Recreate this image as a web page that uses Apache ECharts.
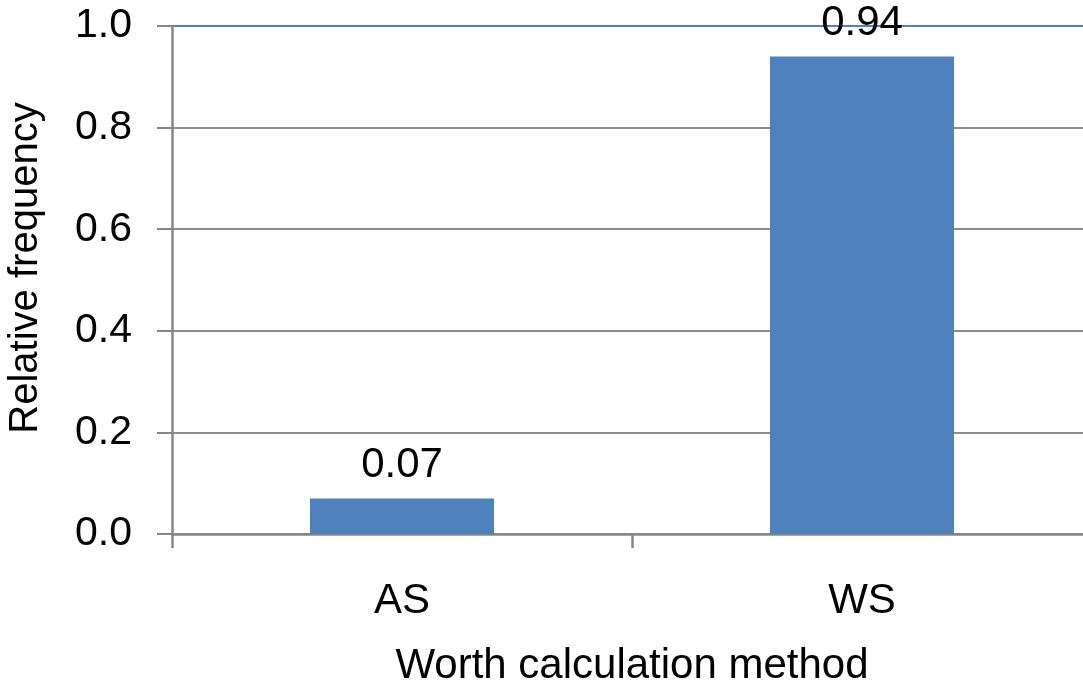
<!DOCTYPE html>
<html>
<head>
<meta charset="utf-8">
<script src="https://cdn.jsdelivr.net/npm/echarts@6/dist/echarts.min.js"></script>
<style>
  html, body { margin: 0; padding: 0; overflow: hidden; background: #fff; }
  #chart { width: 1092px; height: 688px; }
</style>
</head>
<body>
<div id="chart"></div>
<script>
// Share of worth calculation methods
const categories = ['AS', 'WS'];
const frequencies = [0.07, 0.94];
const yTicks = [0, 0.2, 0.4, 0.6, 0.8, 1.0];

const FONT = '"Liberation Sans", Arial, sans-serif';
const GRID_GRAY = '#8c8c8c';
const AXIS_GRAY = '#868686';
const BAR_BLUE = '#4f81bd';

const chart = echarts.init(document.getElementById('chart'), null, { renderer: 'canvas' });

chart.setOption({
  animation: false,
  backgroundColor: '#ffffff',
  grid: {
    left: 172, top: 26, width: 920, bottom: 154,
    containLabel: false,
    outerBoundsMode: 'none'
  },
  xAxis: {
    type: 'category',
    data: categories,
    name: 'Worth calculation method',
    nameLocation: 'middle',
    nameGap: 111,
    nameTextStyle: { fontFamily: FONT, fontSize: 42, color: '#000' },
    axisLine: { lineStyle: { color: AXIS_GRAY, width: 2.5 } },
    axisTick: { show: true, length: 14, lineStyle: { color: AXIS_GRAY, width: 2.5 } },
    axisLabel: { fontFamily: FONT, fontSize: 42, color: '#000', margin: 46 }
  },
  yAxis: {
    type: 'value',
    min: yTicks[0],
    max: yTicks[yTicks.length - 1],
    interval: 0.2,
    name: 'Relative frequency',
    nameLocation: 'middle',
    nameGap: 126,
    nameTextStyle: { fontFamily: FONT, fontSize: 40, color: '#000', padding: [0, 0, 0, 24] },
    axisLine: { show: true, lineStyle: { color: AXIS_GRAY, width: 2.5 } },
    axisTick: { show: true, length: 15, lineStyle: { color: AXIS_GRAY, width: 2 } },
    axisLabel: {
      fontFamily: FONT, fontSize: 41, color: '#000', margin: 40,
      formatter: v => v.toFixed(1)
    },
    splitLine: {
      show: true,
      lineStyle: {
        color: [GRID_GRAY, GRID_GRAY, GRID_GRAY, GRID_GRAY, GRID_GRAY, BAR_BLUE],
        width: 2
      }
    }
  },
  series: [{
    type: 'bar',
    data: frequencies,
    barWidth: '40%',
    itemStyle: { color: BAR_BLUE },
    label: {
      show: true,
      position: 'top',
      distance: 12,
      fontFamily: FONT,
      fontSize: 42,
      color: '#000',
      formatter: p => p.value.toFixed(2)
    }
  }]
});
</script>
</body>
</html>
